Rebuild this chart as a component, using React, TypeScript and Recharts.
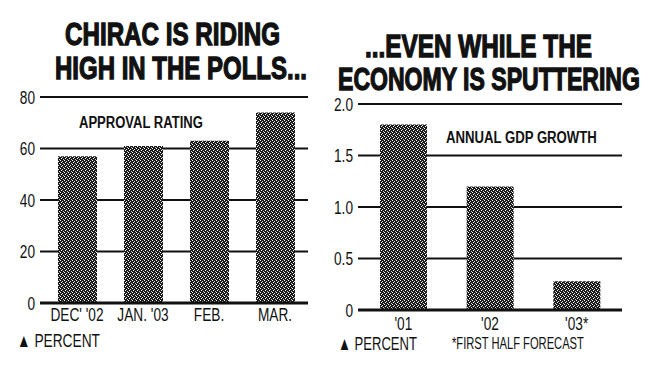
import React, { useLayoutEffect, useRef, useState } from "react";
import { Bar, BarChart, CartesianGrid, XAxis, YAxis } from "recharts";

// approval rating, percent
const pollMonths = ["DEC' '02", "JAN. '03", "FEB.", "MAR."];
const approval = [57, 61, 63, 74];
const pollTicks = [0, 20, 40, 60, 80];

// annual GDP growth, percent
const gdpYears = ["'01", "'02", "'03*"];
const gdpGrowth = [1.8, 1.2, 0.28];
const gdpTicks = [0, 0.5, 1.0, 1.5, 2.0];

const pollData = pollMonths.map((m, i) => ({ month: m, value: approval[i] }));
const gdpData = gdpYears.map((y, i) => ({ year: y, value: gdpGrowth[i] }));

const font = "'Liberation Sans', Arial, sans-serif";
const ink = "#111";

// squeeze a text horizontally so it spans `width` px (the print uses a condensed face)
function FitText({ x, y, width, size, weight = 400, heavy = false, children }: any) {
  const ref = useRef<SVGTextElement>(null);
  const [s, setS] = useState(1);
  useLayoutEffect(() => {
    if (ref.current) {
      const w = ref.current.getComputedTextLength();
      if (w > 0) setS(width / w);
    }
  }, [width, children]);
  return (
    <text
      ref={ref}
      transform={`translate(${x},${y}) scale(${s},1)`}
      fontFamily={font}
      fontSize={size}
      fontWeight={weight}
      fill={ink}
      stroke={heavy ? ink : "none"}
      strokeWidth={heavy ? 1.3 : 0}
    >
      {children}
    </text>
  );
}

function CondTick(props: any) {
  const { x, y, payload, textAnchor, fmt, axis } = props;
  const label = fmt ? fmt(payload.value) : payload.value;
  return (
    <text
      transform={`translate(${x},${y}) scale(0.72,1)`}
      textAnchor={textAnchor}
      dy={axis === "x" ? "0.71em" : "0.36em"}
      fontFamily={font}
      fontSize={19}
      fill={ink}
    >
      {label}
    </text>
  );
}

function Stipple({ id }: { id: string }) {
  return (
    <defs>
      <pattern id={id} width={4} height={4} patternUnits="userSpaceOnUse">
        <rect width={4} height={4} fill="#1a1a1a" />
        <rect x={0} y={0} width={1} height={1} fill="#fff" />
        <rect x={2} y={1} width={1} height={1} fill="#ddd" />
        <rect x={1} y={2} width={1} height={1} fill="#fff" />
        <rect x={3} y={3} width={1} height={1} fill="#ccc" />
      </pattern>
    </defs>
  );
}

const gdpFmt = (v: number) => (v === 0 ? "0" : v.toFixed(1));

function PollChart() {
  return (
    <div style={{ position: "absolute", left: 0, top: 0 }}>
      <BarChart width={330} height={368} data={pollData} margin={{ top: 97, right: 22, bottom: 35, left: 0 }}>
        <Stipple id="stipA" />
        <CartesianGrid vertical={false} stroke={ink} strokeWidth={2} />
        <XAxis
          dataKey="month"
          tickLine={false}
          axisLine={{ stroke: ink, strokeWidth: 3 }}
          tick={(p: any) => <CondTick {...p} axis="x" />}
          tickSize={2}
          tickMargin={2}
          interval={0}
          padding={{ left: 4, right: 0 }}
        />
        <YAxis
          width={40}
          domain={[0, 80]}
          ticks={pollTicks}
          tickLine={false}
          axisLine={false}
          tick={(p: any) => <CondTick {...p} axis="y" />}
          tickSize={3}
          tickMargin={2}
        />
        <Bar dataKey="value" fill="url(#stipA)" barSize={39} isAnimationActive={false} />
      </BarChart>
    </div>
  );
}

function GdpChart() {
  return (
    <div style={{ position: "absolute", left: 320, top: 0 }}>
      <BarChart width={341} height={368} data={gdpData} margin={{ top: 104, right: 39, bottom: 28, left: 0 }}>
        <Stipple id="stipB" />
        <CartesianGrid vertical={false} stroke={ink} strokeWidth={2} />
        <XAxis
          dataKey="year"
          tickLine={false}
          axisLine={{ stroke: ink, strokeWidth: 3 }}
          tick={(p: any) => <CondTick {...p} axis="x" />}
          tickSize={4}
          tickMargin={2}
          interval={0}
          padding={{ left: 2, right: 2 }}
        />
        <YAxis
          width={38}
          domain={[0, 2]}
          ticks={gdpTicks}
          tickLine={false}
          axisLine={false}
          tick={(p: any) => <CondTick {...p} axis="y" fmt={gdpFmt} />}
          tickSize={3}
          tickMargin={2}
        />
        <Bar dataKey="value" fill="url(#stipB)" barSize={47} isAnimationActive={false} />
      </BarChart>
    </div>
  );
}

function Overlay() {
  return (
    <svg width={661} height={368} style={{ position: "absolute", left: 0, top: 0, pointerEvents: "none" }}>
      <FitText x={65} y={45} width={215} size={31} weight={700} heavy>CHIRAC IS RIDING</FitText>
      <FitText x={55} y={79} width={252} size={31} weight={700} heavy>HIGH IN THE POLLS...</FitText>
      <FitText x={365} y={57} width={227} size={31} weight={700} heavy>...EVEN WHILE THE</FitText>
      <FitText x={338} y={90} width={302} size={31} weight={700} heavy>ECONOMY IS SPUTTERING</FitText>

      <FitText x={79} y={128} width={124} size={17} weight={700}>APPROVAL RATING</FitText>
      <FitText x={446} y={143} width={151} size={17} weight={700}>ANNUAL GDP GROWTH</FitText>

      <FitText x={17} y={347} width={83} size={19}>▲ PERCENT</FitText>
      <FitText x={338} y={350} width={79} size={19}>▲ PERCENT</FitText>
      <FitText x={452} y={349} width={132} size={16}>*FIRST HALF FORECAST</FitText>
    </svg>
  );
}

export default function App() {
  return (
    <div style={{ position: "fixed", left: 0, top: 0, width: 661, height: 368, background: "#fff" }}>
      <PollChart />
      <GdpChart />
      <Overlay />
    </div>
  );
}
